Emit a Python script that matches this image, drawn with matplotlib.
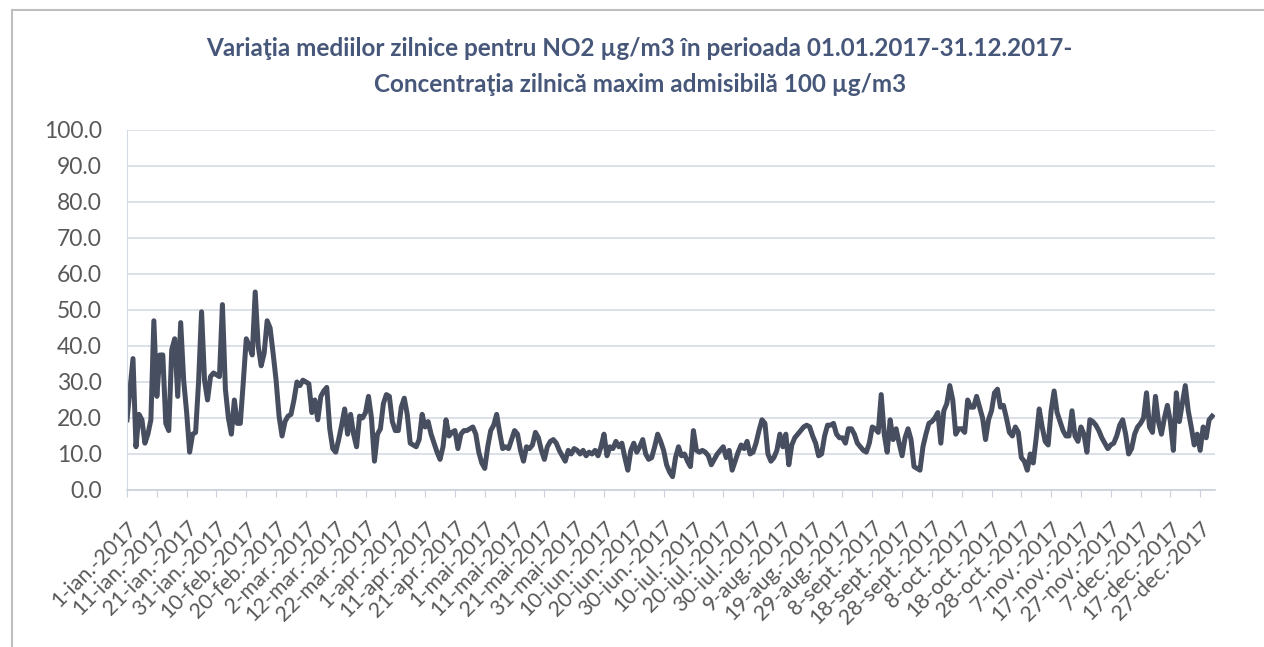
import numpy as np
import pandas as pd
import matplotlib.pyplot as plt
from matplotlib.lines import Line2D

# daily NO2 means
ian = [19.5, 28, 36.5, 12, 21, 19.5, 13, 15.5, 19.5, 47, 26, 37.5, 37.5, 18.5, 16.5, 39,
       42, 26, 46.5, 30.5, 21.5, 10.5, 15.5, 16, 30, 49.5, 30.5, 25, 31.5, 32.5, 32]
feb = [31.5, 51.5, 28, 20, 15.5, 25, 18.5, 18.5, 30, 42, 40, 37.5, 55, 40, 34.5, 38,
       47, 45, 38, 30.5, 20.5, 15, 19, 20.5, 21, 25, 30, 29]
mar = [30.5, 30, 29.5, 21.5, 25, 19.5, 26, 27.5, 28.5, 17, 11.5, 10.5, 14, 18, 22.5, 15.5,
       21, 15.5, 12, 20.5, 20, 21.5, 26, 20, 8, 15.5, 17, 24, 26.5, 26, 19]
apr = [16.5, 16.5, 23, 25.5, 21, 13, 12.5, 12, 14, 21, 17.5, 19, 15.5, 13, 10.5, 8.5,
       12, 19.5, 15, 16, 16.5, 11.5, 15.5, 16.5, 16.5, 17, 17.5, 15.5, 10.5, 7.5]
mai = [6, 12, 16.5, 18, 21, 16, 11.5, 12, 11.5, 14, 16.5, 15.5, 11, 8, 12, 11.5,
       12.5, 16, 14.5, 11, 8.5, 12, 13.5, 14, 13, 11, 9.5, 8, 11, 10, 11.5]
iun = [11, 10, 11, 9.5, 10.5, 10, 11, 9.5, 12, 15.5, 9.5, 12, 11.5, 13.5, 12, 13,
       9, 5.5, 11, 13, 10.5, 12, 14, 10, 8.5, 9, 12, 15.5, 13.5, 11]
iul = [7, 5, 3.7, 9, 12, 9.5, 10, 8, 6.5, 16.5, 11, 10.5, 11, 10.5, 9.5, 7,
       8.5, 10, 11, 12, 9, 11, 5.5, 8, 10.5, 12.5, 11.5, 13.5, 10, 10.5, 13]
aug = [16.5, 19.5, 18.5, 10, 8, 9, 11, 15.5, 12, 15.5, 7, 12.5, 14.5, 15.5, 16.5, 17.5,
       18, 17.5, 15, 13, 9.5, 10, 15, 18, 18, 18.5, 15.5, 14.5, 14.5, 13, 17]
sep = [17, 15.5, 13, 12, 11, 10.5, 13, 17.5, 17, 16, 26.5, 15.5, 10.5, 19.5, 14, 17,
       13, 9.5, 14.5, 17, 14, 6.5, 6, 5.5, 12, 15.5, 18.5, 19, 20, 21.5]
oct_ = [13, 22, 24, 29, 25, 15.5, 17, 17, 16, 25, 23, 23, 26, 23, 20, 14,
        19.5, 22, 27, 28, 23, 23.5, 20, 16, 15, 17.5, 16, 9, 8, 5.5, 10]
nov = [7.5, 14.5, 22.5, 17.5, 13.5, 12.5, 22, 27.5, 21.5, 19, 16.5, 15, 15, 22, 15, 13.5,
       17.5, 15.5, 10.5, 19.5, 19, 18, 16.5, 14.5, 13, 11.5, 12.5, 13, 15, 18]
dec = [19.5, 15.5, 10, 11.5, 15.5, 17.5, 18.5, 20, 27, 17.5, 16, 26, 19, 15.5, 20, 23.5,
       19, 11, 27, 19, 24, 29, 22, 17.5, 12.5, 15.5, 11, 17.5, 14.5, 19.5, 20.5]

luni = ['ian.', 'feb.', 'mar.', 'apr.', 'mai', 'iun.', 'iul.', 'aug.', 'sept.', 'oct.', 'nov.', 'dec.']
y_ticks = [0, 10, 20, 30, 40, 50, 60, 70, 80, 90, 100]

values = ian + feb + mar + apr + mai + iun + iul + aug + sep + oct_ + nov + dec
zile = pd.date_range('2017-01-01', '2017-12-31', freq='D')
assert len(values) == len(zile)

x = np.arange(len(values))
tick_pos = x[::10]
tick_labels = [f"{d.day}-{luni[d.month - 1]}-2017" for d in zile[::10]]

plt.rcParams['font.family'] = ['Lato', 'DejaVu Sans']

fig = plt.figure(figsize=(12.64, 6.47), dpi=100)
ax = fig.add_axes([0.1005, 0.2427, 0.8608, 0.5564])

ax.plot(x, values, color='#474e5f', lw=3.6, solid_joinstyle='round')

ax.set_xlim(0, 365)
ax.set_ylim(0, 100)
ax.set_yticks(y_ticks)
ax.set_yticklabels([f"{v:.1f}" for v in y_ticks])
ax.set_xticks(tick_pos)
ax.set_xticklabels(tick_labels, rotation=45, ha='right', rotation_mode='anchor')

ax.grid(axis='y', color='#d5dbe5', lw=1.2)
ax.set_axisbelow(True)
for s in ['top', 'right']:
    ax.spines[s].set_visible(False)
ax.spines['left'].set_color('#d5dbe5')
ax.spines['bottom'].set_color('#c9d1dd')
ax.spines['bottom'].set_linewidth(1.2)

ax.tick_params(axis='y', length=0, pad=18, labelsize=16.5, labelcolor='#595959')
ax.tick_params(axis='x', length=5, color='#c9d1dd', pad=15, labelsize=15.5, labelcolor='#595959')

fig.text(0.506, 0.925, "Variaţia mediilor zilnice pentru NO2 µg/m3 în perioada 01.01.2017-31.12.2017-",
         ha='center', va='center', fontsize=17.5, fontweight='bold', color='#46577a')
fig.text(0.506, 0.870, "Concentraţia zilnică maxim admisibilă 100 µg/m3",
         ha='center', va='center', fontsize=17.5, fontweight='bold', color='#46577a')

# chart border (top and left edges visible in the scan)
fig.add_artist(Line2D([0.0095, 1.0], [0.9845, 0.9845], color='#bfbfbf', lw=1.5))
fig.add_artist(Line2D([0.0095, 0.0095], [0.0, 0.9845], color='#bfbfbf', lw=1.5))

fig.savefig('out.png', dpi=100)
